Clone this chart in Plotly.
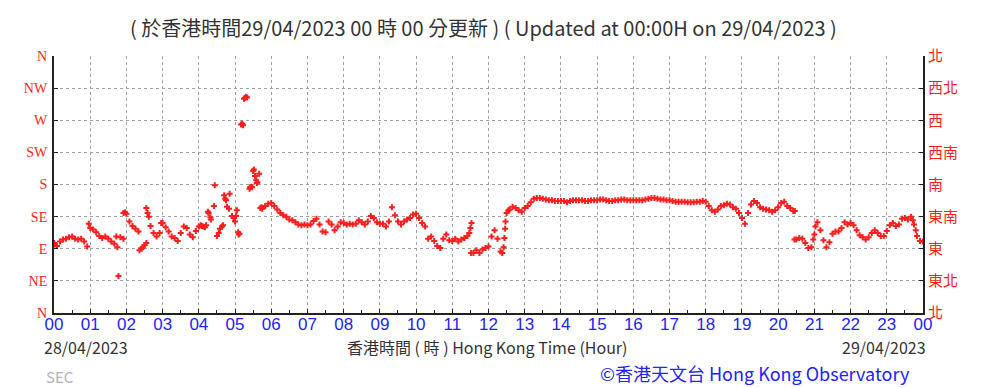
import plotly.graph_objects as go

# ---------------- data ----------------
hour_labels = ["00", "01", "02", "03", "04", "05", "06", "07", "08", "09", "10", "11",
               "12", "13", "14", "15", "16", "17", "18", "19", "20", "21", "22", "23", "00"]
dir_ticks = [0, 45, 90, 135, 180, 225, 270, 315, 360]
dir_labels_en = ["N", "NE", "E", "SE", "S", "SW", "W", "NW", "N"]
dir_labels_zh = ["北", "東北", "東", "東南", "南", "西南", "西", "西北", "北"]

# wind direction (degrees) sampled every 5 minutes, one list per hour
dir_h00 = [98, 94, 100, 103, 104, 106, 107, 104, 103, 104, 100, 93]
dir_h01 = [119, 117, 113, 108, 105, 107, 104, 100, 97, 92, 106, 104]
dir_h02 = [139, 128, 122, 118, 114, 90, 95, 140, 122, 112, 107, 112]
dir_h03 = [126, 120, 114, 107, 105, 101, 112, 121, 119, 110, 106, 115]
dir_h04 = [121, 122, 120, 142, 131, 150, 108, 118, 123, 158, 146, 136]
dir_h05 = [128, 113, 264, 300, 302, 176, 199, 186, 195, 146, 150, 153]
dir_h06 = [154, 150, 145, 140, 137, 135, 131, 130, 127, 124, 123, 124]
dir_h07 = [123, 124, 129, 132, 124, 114, 113, 128, 124, 116, 121, 127]
dir_h08 = [126, 124, 125, 124, 125, 130, 127, 124, 128, 136, 133, 127]
dir_h09 = [125, 125, 121, 128, 148, 137, 128, 124, 128, 131, 133, 138]
dir_h10 = [139, 133, 126, 121, 104, 107, 101, 94, 91, 104, 110, 102]
dir_h11 = [101, 104, 100, 103, 105, 108, 119, 84, 88, 84, 89, 91]
dir_h12 = [93, 107, 116, 104, 86, 92, 140, 145, 149, 147, 144, 142]
dir_h13 = [147, 150, 155, 160, 161, 161, 160, 159, 158, 158, 157, 157]
dir_h14 = [157, 157, 155, 157, 158, 158, 158, 158, 157, 157, 158, 158]
dir_h15 = [158, 159, 159, 158, 157, 157, 158, 158, 159, 159, 158, 158]
dir_h16 = [158, 158, 158, 158, 159, 160, 161, 161, 160, 159, 159, 158]
dir_h17 = [158, 157, 156, 156, 156, 156, 155, 155, 155, 156, 156, 157]
dir_h18 = [156, 150, 144, 142, 145, 150, 151, 153, 152, 148, 146, 140]
dir_h19 = [133, 125, 140, 152, 157, 154, 148, 146, 145, 144, 142, 144]
dir_h20 = [148, 154, 156, 150, 147, 143, 103, 105, 104, 98, 91, 92]
dir_h21 = [110, 127, 116, 102, 92, 99, 111, 114, 114, 119, 127, 124]
dir_h22 = [126, 123, 116, 109, 106, 103, 106, 112, 116, 112, 108, 108]
dir_h23 = [115, 123, 126, 122, 124, 132, 133, 131, 135, 124, 108, 101]

# additional irregular readings (hour of day, direction in degrees)
extra_time = [0.02, 0.96, 1.72, 1.78, 1.92, 1.96, 2.36, 2.45, 2.55, 2.55, 2.62, 2.96,
              4.05, 4.12, 4.20, 4.27, 4.32, 4.44, 4.55, 4.64, 4.70, 4.73, 4.78, 4.85,
              4.96, 5.03, 5.05, 5.10, 5.12, 5.20, 5.22, 5.27, 5.30, 5.40, 5.45, 5.47,
              5.52, 5.55, 5.60, 5.62, 5.70, 5.73, 11.47, 11.52, 11.53, 12.38, 12.44,
              12.46, 12.47, 12.55, 20.45, 20.46, 20.97, 21.03, 23.72, 23.80, 24.0]
extra_dir = [96, 125, 107, 52, 140, 141, 88, 92, 98, 147, 135, 126,
             123, 121, 123, 140, 134, 179, 112, 121, 165, 160, 149, 167,
             133, 136, 144, 110, 111, 265, 263, 301, 303, 174, 177, 176,
             201, 192, 182, 183, 147, 148, 112, 84, 126, 84, 105,
             118, 128, 144, 103, 143, 103, 121, 130, 116, 100]

# ---------------- build ----------------
hourly = [dir_h00, dir_h01, dir_h02, dir_h03, dir_h04, dir_h05, dir_h06, dir_h07,
          dir_h08, dir_h09, dir_h10, dir_h11, dir_h12, dir_h13, dir_h14, dir_h15,
          dir_h16, dir_h17, dir_h18, dir_h19, dir_h20, dir_h21, dir_h22, dir_h23]
times, dirs = [], []
for h, vals in enumerate(hourly):
    for i, v in enumerate(vals):
        times.append(h + i * 5 / 60)
        dirs.append(v)
times += extra_time
dirs += extra_dir

RED = "#ff1e1e"
BLUE = "#2323ff"
TXT = "#333333"

fig = go.Figure()
fig.add_trace(go.Scatter(
    x=times, y=dirs, mode="markers",
    marker=dict(symbol="cross", size=5, color=RED, line=dict(width=0)),
    hoverinfo="skip"))
fig.add_trace(go.Scatter(x=[None], y=[None], yaxis="y2", showlegend=False,
                         hoverinfo="skip"))

# the page body has an 8px margin; work in page pixels and offset
OFF = 8
W, H = 983 - OFF, 388 - OFF
L, R, T, B = 54, 923, 56, 313   # plot area in page pixels


def px(x):
    return (x - L) / (R - L)


def py(y):
    return (B - y) / (B - T)


fig.update_layout(
    width=W, height=H,
    margin=dict(l=L - OFF, r=W - (R - OFF), t=T - OFF, b=H - (B - OFF), pad=0),
    paper_bgcolor="white", plot_bgcolor="white",
    showlegend=False,
    xaxis=dict(
        range=[0, 24], tickmode="array", tickvals=list(range(25)), ticktext=hour_labels,
        showgrid=True, gridcolor="#a0a0a0", griddash="dot", gridwidth=1,
        showline=True, linecolor="#222222", linewidth=2, mirror=False,
        ticks="inside", ticklen=4, tickcolor="#222222", ticklabelstandoff=-5,
        minor=dict(dtick=0.5, ticks="inside", ticklen=3, tickcolor="#222222", showgrid=False),
        tickfont=dict(family="Liberation Sans Narrow, Liberation Sans, Arial", size=17, color=BLUE),
        zeroline=False, fixedrange=True),
    yaxis=dict(
        range=[0, 360], tickmode="array", tickvals=dir_ticks, ticktext=dir_labels_en,
        showgrid=True, gridcolor="#a0a0a0", griddash="dot", gridwidth=1,
        showline=True, linecolor="#222222", linewidth=2,
        ticks="inside", ticklen=4, tickcolor="#222222", ticklabelstandoff=2,
        tickfont=dict(family="Liberation Serif, DejaVu Serif", size=14, color=RED),
        zeroline=False, fixedrange=True),
    yaxis2=dict(
        range=[0, 360], overlaying="y", side="right", tickmode="array",
        tickvals=dir_ticks, ticktext=dir_labels_zh, showgrid=False,
        showline=True, linecolor="#222222", linewidth=2,
        ticks="inside", ticklen=4, tickcolor="#222222",
        tickfont=dict(family="Noto Sans CJK TC", size=15, color=RED),
        zeroline=False, fixedrange=True),
)

font_txt = "Liberation Sans Narrow, Noto Sans CJK TC, Liberation Sans"
annots = [
    dict(text="( 於香港時間29/04/2023 00 時 00 分更新 ) ( Updated at 00:00H on 29/04/2023 )",
         x=px(483), y=py(28), xanchor="center", yanchor="middle", size=20, color=TXT),
    dict(text="28/04/2023", x=px(42), y=py(347), xanchor="left", yanchor="middle",
         size=16, color=TXT),
    dict(text="香港時間 ( 時 ) Hong Kong Time (Hour)", x=px(487), y=py(347),
         xanchor="center", yanchor="middle", size=16, color=TXT),
    dict(text="29/04/2023", x=px(928), y=py(347), xanchor="right", yanchor="middle",
         size=16, color=TXT),
    dict(text="SEC", x=px(44), y=py(376), xanchor="left", yanchor="middle",
         size=15, color="#b4b4b4"),
    dict(text="©香港天文台 Hong Kong Observatory", x=px(912), y=py(373), xanchor="right",
         yanchor="middle", size=18, color=BLUE),
]
for a in annots:
    fig.add_annotation(text=a["text"], x=a["x"], y=a["y"], xref="paper", yref="paper",
                       xanchor=a["xanchor"], yanchor=a["yanchor"], showarrow=False,
                       font=dict(family=font_txt, size=a["size"], color=a["color"]))

fig.write_html("out.html")
